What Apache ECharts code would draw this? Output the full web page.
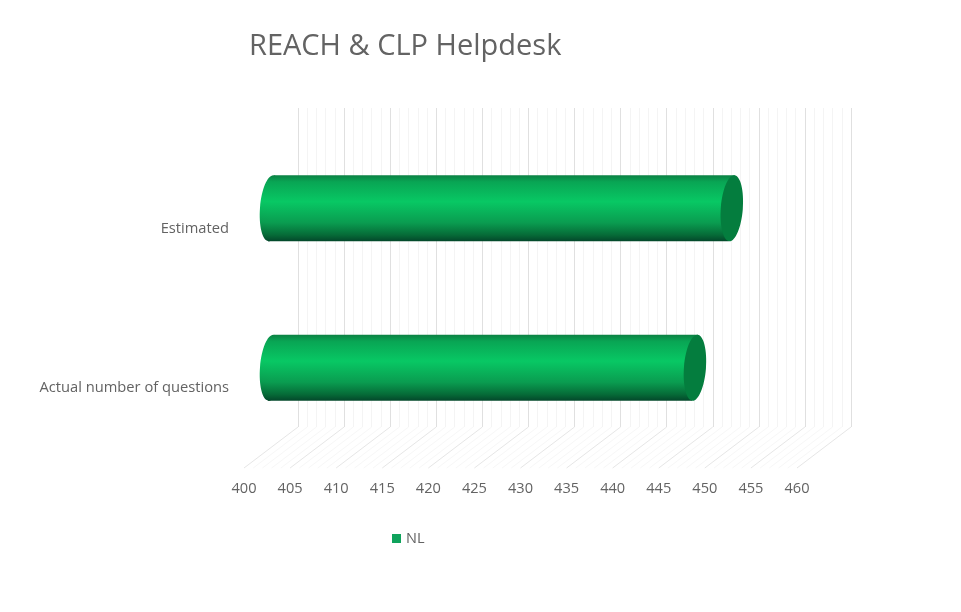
<!DOCTYPE html>
<html>
<head>
<meta charset="utf-8">
<style>html,body{margin:0;padding:0;background:#fff}#c{width:961px;height:612px}</style>
<script src="https://cdn.jsdelivr.net/npm/echarts@6/dist/echarts.min.js"></script>
</head>
<body>
<div id="c"></div>
<script>
var titleText = 'REACH & CLP Helpdesk';
var seriesName = 'NL';
var categories = ['Actual number of questions', 'Estimated'];
var values = [446, 450];
var axisMin = 400, axisMax = 460, axisStep = 5;
var majorFloor = [400,405,410,415,420,425,430,435,440,445,450,455,460];
var minorFloor = [401,402,403,404,406,407,408,409,411,412,413,414,416,417,418,419,421,422,423,424,426,427,428,429,431,432,433,434,436,437,438,439,441,442,443,444,446,447,448,449,451,452,453,454,456,457,458,459];

var DX = 54, DY = 41;
var FONT = '"Open Sans", sans-serif';
var TEXT = '#636363';

function bodyGrad() {
  return new echarts.graphic.LinearGradient(0, 0, 0, 1, [
    {offset: 0, color: '#0b8043'},
    {offset: 0.1, color: '#09a554'},
    {offset: 0.4, color: '#08c864'},
    {offset: 0.72, color: '#0a9c50'},
    {offset: 0.9, color: '#066c38'},
    {offset: 1, color: '#03472a'}
  ]);
}

function floorItem(color, width) {
  return function (params, api) {
    var cs = params.coordSys;
    var x = api.coord([api.value(0), 0])[0];
    var y = cs.y + cs.height;
    return {
      type: 'line',
      silent: true,
      shape: {x1: x, y1: y, x2: x + DX, y2: y - DY},
      style: {stroke: color, lineWidth: width}
    };
  };
}

function cylinder(params, api) {
  var p = api.coord([api.value(0), api.value(1)]);
  var s = api.coord([axisMin, api.value(1)]);
  var h = api.size([0, 1])[1] * 0.415;
  var cy = p[1] - DY / 2;
  var x0 = s[0] + DX / 2, x1 = p[0] + DX / 2;
  var rx = 11, ry = h / 2, skew = 3;
  return {
    type: 'group',
    children: [
      {type: 'ellipse', shape: {cx: x0, cy: cy, rx: rx, ry: ry},
        x: 0, y: 0, rotation: -0.08, originX: x0, originY: cy,
        style: {fill: bodyGrad()}},
      {type: 'polygon', shape: {points: [
          [x0 + skew, cy - ry], [x1 + skew, cy - ry],
          [x1 - skew, cy + ry], [x0 - skew, cy + ry]]},
        style: {fill: bodyGrad()}},
      {type: 'ellipse', shape: {cx: x1, cy: cy, rx: rx, ry: ry},
        rotation: -0.08, originX: x1, originY: cy,
        style: {fill: '#047d3e'}}
    ]
  };
}

var chart = echarts.init(document.getElementById('c'), null, {renderer: 'canvas'});
chart.setOption({
  animation: false,
  backgroundColor: '#fff',
  color: ['#0fa35c'],
  title: {
    text: titleText, left: 244, top: 27,
    textStyle: {color: TEXT, fontFamily: FONT, fontSize: 29, fontWeight: 'normal'}
  },
  legend: {
    data: [seriesName], left: 387, top: 526, icon: 'rect',
    itemWidth: 9, itemHeight: 9, itemGap: 4,
    textStyle: {color: TEXT, fontFamily: FONT, fontSize: 14.5}
  },
  grid: [
    {left: 244, width: 553, top: 149, height: 319},
    {left: 298, width: 553, top: 108, height: 319}
  ],
  xAxis: [
    {
      gridIndex: 0, type: 'value', min: axisMin, max: axisMax, interval: axisStep,
      axisLine: {show: false}, axisTick: {show: false}, splitLine: {show: false},
      axisLabel: {color: TEXT, fontFamily: FONT, fontSize: 14.6, margin: 13}
    },
    {
      gridIndex: 1, type: 'value', min: axisMin, max: axisMax, interval: axisStep,
      axisLine: {show: false}, axisTick: {show: false}, axisLabel: {show: false},
      splitLine: {show: true, lineStyle: {color: '#e0e0e0', width: 1}},
      minorSplitLine: {show: true, lineStyle: {color: '#f4f4f4', width: 1}},
      minorTick: {splitNumber: 5}
    }
  ],
  yAxis: [
    {
      gridIndex: 0, type: 'category', data: categories,
      axisLine: {show: false}, axisTick: {show: false}, splitLine: {show: false},
      axisLabel: {color: TEXT, fontFamily: FONT, fontSize: 14.7, margin: 15, padding: [2, 0, 0, 0]}
    },
    {
      gridIndex: 1, type: 'value', min: 0, max: 1, show: false, splitLine: {show: false}
    }
  ],
  series: [
    {
      type: 'custom', name: 'floorMinor', xAxisIndex: 0, yAxisIndex: 0, silent: true, z: 1,
      data: minorFloor.map(function (v) { return [v]; }),
      encode: {x: 0}, clip: false,
      renderItem: floorItem('#f7f7f7', 1)
    },
    {
      type: 'custom', name: 'floorMajor', xAxisIndex: 0, yAxisIndex: 0, silent: true, z: 1,
      data: majorFloor.map(function (v) { return [v]; }),
      encode: {x: 0}, clip: false,
      renderItem: floorItem('#e6e6e6', 1)
    },
    {
      type: 'custom', name: seriesName, xAxisIndex: 0, yAxisIndex: 0, z: 5,
      itemStyle: {color: '#0fa35c'},
      data: values.map(function (v, i) { return [v, i]; }),
      encode: {x: 0, y: 1}, clip: false,
      renderItem: cylinder
    }
  ]
});
</script>
</body>
</html>
